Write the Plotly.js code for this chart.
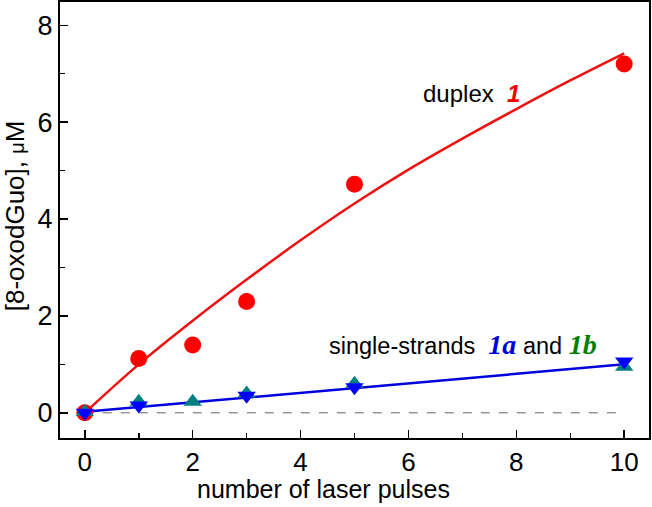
<!DOCTYPE html>
<html>
<head>
<meta charset="utf-8">
<script src="https://cdn.plot.ly/plotly-3.0.1.min.js"></script>
<style>
  html, body { margin: 0; padding: 0; background: #fff; }
  #chart { width: 652px; height: 507px; }
</style>
</head>
<body>
<div id="chart"></div>
<script>
// measured points
const pulses = [0, 1, 2, 3, 5, 10];
const duplex1 = [0, 1.12, 1.40, 2.30, 4.72, 7.20];

const pulsesA = [0, 1, 3, 5, 10];
const single1a = [0, 0.15, 0.35, 0.53, 1.06];

const pulsesB = [0, 1, 2, 3, 5, 10];
const single1b = [0.02, 0.23, 0.23, 0.40, 0.60, 0.95];

// fitted curves
const fitX = [0, 1, 2, 3, 4, 5, 6, 7, 8, 9, 10];
const fitDuplex = [0, 1.0, 1.9, 2.75, 3.56, 4.32, 5.02, 5.66, 6.27, 6.86, 7.42];
const fitSingleX = [0, 10];
const fitSingle = [0.02, 1.0];

const baseX = [0, 10];
const baseY = [0, 0];

const traces = [
  {
    x: baseX, y: baseY, type: "scatter", mode: "lines",
    line: { color: "#666", width: 1, dash: "dash" },
    hoverinfo: "skip",
  },
  {
    x: fitX, y: fitDuplex, type: "scatter", mode: "lines",
    line: { color: "#ee1111", width: 2.5, shape: "spline" },
  },
  {
    x: fitSingleX, y: fitSingle, type: "scatter", mode: "lines",
    line: { color: "#0000dd", width: 2.5 },
  },
  {
    x: pulses, y: duplex1, type: "scatter", mode: "markers",
    marker: { color: "#ff0000", size: 17, symbol: "circle" },
  },
  {
    x: pulsesB, y: single1b, type: "scatter", mode: "markers",
    marker: { color: "#008080", size: 16, symbol: "triangle-up" },
  },
  {
    x: pulsesA, y: single1a, type: "scatter", mode: "markers",
    marker: { color: "#0000ff", size: 16, symbol: "triangle-down" },
  },
];

const serif = "font-family:Liberation Serif, Times New Roman, serif;font-size:28px";

const layout = {
  width: 652,
  height: 507,
  margin: { l: 60, r: 3, t: 2, b: 69 },
  paper_bgcolor: "#fff",
  plot_bgcolor: "#fff",
  showlegend: false,
  font: { family: "Liberation Sans, Arial, sans-serif", color: "#000" },
  xaxis: {
    range: [-0.46, 10.46],
    tickvals: [0, 2, 4, 6, 8, 10],
    ticks: "inside",
    ticklen: 8,
    tickwidth: 1.5,
    tickcolor: "#000",
    minor: { tickvals: [1, 3, 5, 7, 9], ticks: "inside", ticklen: 5, tickwidth: 1.5, tickcolor: "#000" },
    showline: true,
    linecolor: "#000",
    linewidth: 2,
    mirror: true,
    showgrid: false,
    zeroline: false,
    tickfont: { size: 26 },
  },
  yaxis: {
    range: [-0.52, 8.48],
    tickvals: [0, 2, 4, 6, 8],
    ticks: "inside",
    ticklen: 8,
    tickwidth: 1.5,
    tickcolor: "#000",
    minor: { tickvals: [1, 3, 5, 7], ticks: "inside", ticklen: 5, tickwidth: 1.5, tickcolor: "#000" },
    showline: true,
    linecolor: "#000",
    linewidth: 2,
    mirror: true,
    showgrid: false,
    zeroline: false,
    tickfont: { size: 27 },
  },
  annotations: [
    {
      // x axis title
      x: 0.447, y: 0, xref: "paper", yref: "paper", showarrow: false,
      xanchor: "center", yanchor: "top", yshift: -35,
      text: "number of laser pulses",
      font: { size: 25 },
    },
    {
      // y axis title
      x: -0.077, y: 0.51, xref: "paper", yref: "paper", showarrow: false,
      xanchor: "center", yanchor: "middle", textangle: -90,
      text: "[8-oxodGuo], <span style=\"font-size:20px\">μ</span>M",
      font: { size: 26 },
    },
    {
      x: 7.16, y: 6.59, xref: "x", yref: "y", showarrow: false,
      text: "duplex  <b><i><span style=\"color:#ee0000\">1</span></i></b>",
      font: { size: 24, color: "#000" },
    },
    {
      x: 7.01, y: 1.42, xref: "x", yref: "y", showarrow: false,
      text: "single-strands  <b><i><span style=\"color:#0000dd;" + serif + "\">1a</span></i></b> and <b><i><span style=\"color:#008000;" + serif + "\">1b</span></i></b>",
      font: { size: 23.5, color: "#000" },
    },
  ],
};

Plotly.newPlot("chart", traces, layout, { displayModeBar: false, staticPlot: true });
</script>
</body>
</html>
